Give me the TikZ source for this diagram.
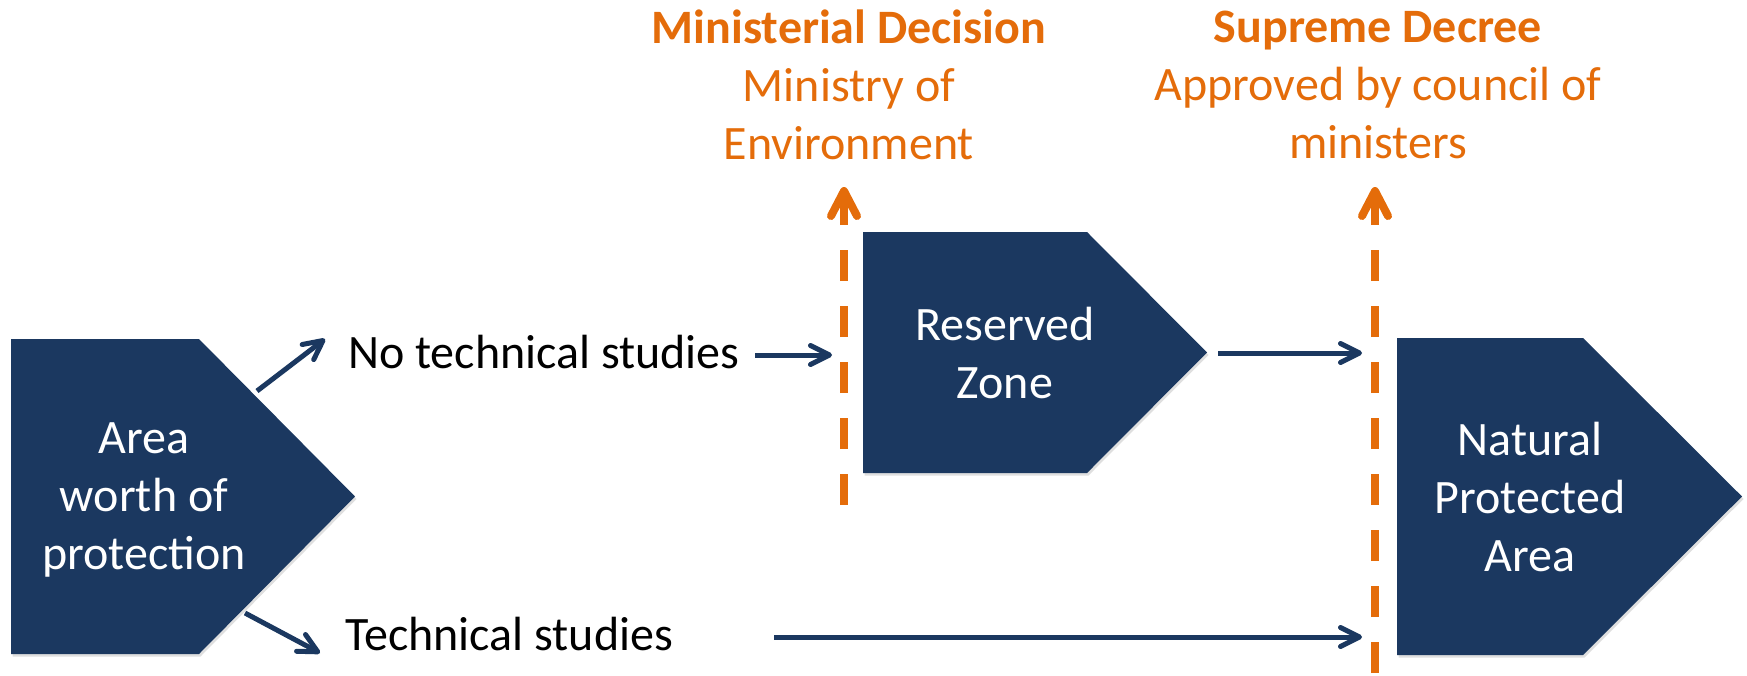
\documentclass[tikz,border=0pt]{standalone}
\usepackage{fontspec}
\setmainfont{Carlito}
\usetikzlibrary{arrows.meta,shadows}
\definecolor{navy}{HTML}{1B3860}
\definecolor{orng}{HTML}{E46C0A}
\tikzset{
  pent/.style={fill=navy, drop shadow={shadow xshift=1.5pt, shadow yshift=-2.5pt, opacity=0.25}},
  boxtext/.style={text=white, align=center, inner sep=0pt, font=\fontsize{48}{58}\selectfont},
  lbl/.style={text=black, inner sep=0pt, font=\fontsize{48}{58}\selectfont},
  head/.style={text=orng, align=center, inner sep=0pt, font=\fontsize{48}{58}\selectfont},
  arr/.style={draw=navy, line width=5pt, -{Straight Barb[length=19pt,width=19pt,round]}},
  gate/.style={draw=orng, line width=8pt, dash pattern=on 31pt off 25pt, -{Straight Barb[length=25pt,width=26pt,round]}},
}
\begin{document}
\begin{tikzpicture}[x=1pt,y=-1pt]
\useasboundingbox (0,0) rectangle (1747,675);
% pentagons
\fill[pent] (11,339) -- (199,339) -- (355,496.5) -- (199,654) -- (11,654) -- cycle;
\fill[pent] (863,232) -- (1087,232) -- (1207,352.5) -- (1087,473) -- (863,473) -- cycle;
\fill[pent] (1397,338) -- (1583,338) -- (1742,496.5) -- (1583,655) -- (1397,655) -- cycle;
% texts
\node[boxtext] (area) at (144,500) {Area\\worth of\\protection};
\node[boxtext] (rz) at (1005,353) {Reserved\\Zone};
\node[boxtext] (npa) at (1530,497) {Natural\\Protected\\Area};
\node[lbl, anchor=base west] (nts) at (348,368) {No technical studies};
\node[lbl, anchor=base west] (ts) at (345,650) {Technical studies};
\node[head] (md) at (849,85) {\textbf{Ministerial Decision}\\Ministry of\\Environment};
\node[head] (sd) at (1378,85) {\textbf{Supreme Decree}\\Approved by council of\\ministers};
% gate coordinates
\coordinate (g1b) at (844,505);
\coordinate (g1t) at (844,187);
\coordinate (g2b) at (1375,673);
\coordinate (g2t) at (1375,187);
\draw[gate] (g1b) -- (g1t);
\draw[gate] (g2b) -- (g2t);
% navy arrows
\coordinate (a1s) at (257,391);
\coordinate (a1e) at (325,339);
\coordinate (a2s) at (245,613);
\coordinate (a2e) at (320,653);
\coordinate (a3s) at (755,355);
\coordinate (a3e) at (832,355);
\coordinate (a4s) at (1218,353);
\coordinate (a4e) at (1362,353);
\coordinate (a5s) at (774,637);
\coordinate (a5e) at (1362,637);
\draw[arr] (a1s) -- (a1e);
\draw[arr] (a2s) -- (a2e);
\draw[arr] (a3s) -- (a3e);
\draw[arr] (a4s) -- (a4e);
\draw[arr] (a5s) -- (a5e);
\end{tikzpicture}
\end{document}
